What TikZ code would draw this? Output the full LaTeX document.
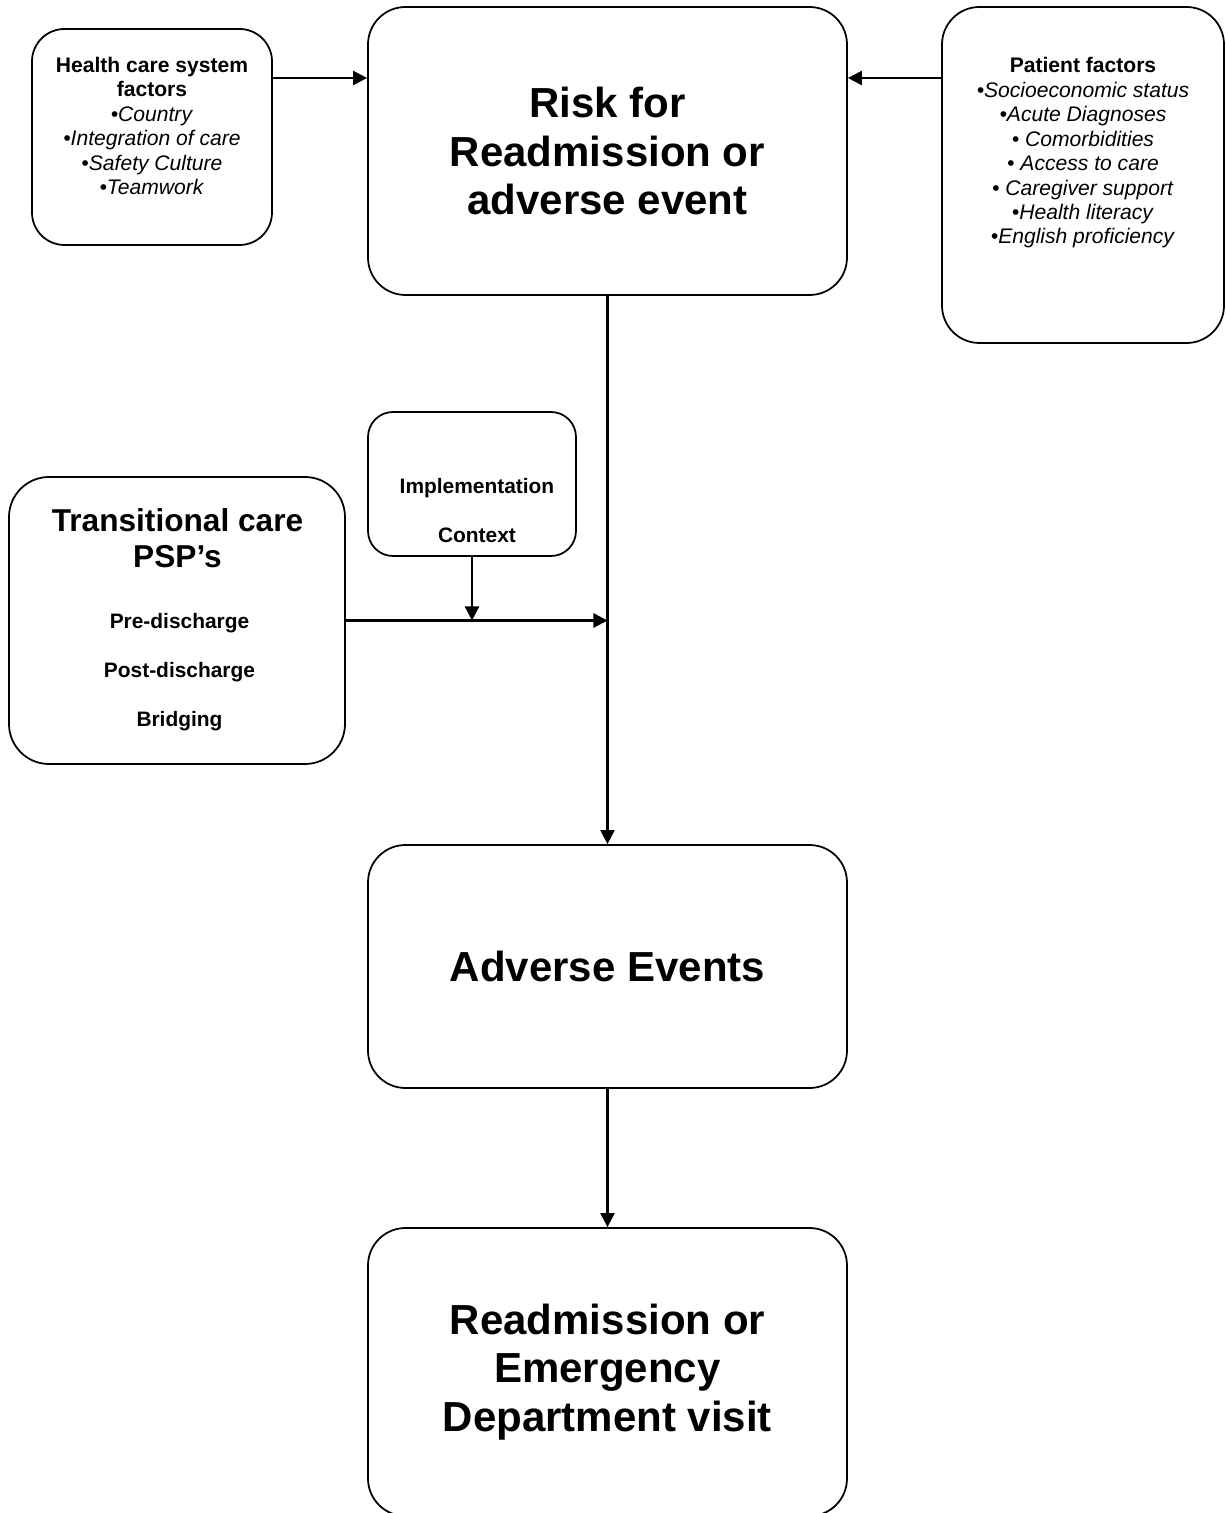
\documentclass[tikz,border=0pt]{standalone}
\usepackage{fontspec}
\setmainfont{Liberation Sans}
\usepackage{tikz}
\usetikzlibrary{positioning}
\usetikzlibrary{arrows.meta}
\tikzset{>=latex}
\tikzstyle{rbox}=[draw,line width=1pt,rounded corners=0.75cm,inner sep=0pt]
\tikzstyle{rbox big}=[rbox,minimum width=9.58cm]
\tikzstyle{title text}=[align=center,font=\bfseries\fontsize{23.9}{27.8}\selectfont]
\tikzstyle{mid text}=[align=center,font=\bfseries\fontsize{18}{20.4}\selectfont]
\tikzstyle{small text}=[align=center,font=\fontsize{12}{13.9}\selectfont]
\tikzstyle{spaced text}=[align=center,font=\bfseries\fontsize{11.9}{27.8}\selectfont]
\tikzstyle{connect arrow}=[-{Triangle[length=8pt,width=8pt]},line width=1.3pt]

\begin{document}
\begin{tikzpicture}[
    on grid,
    line width=1pt,]
\useasboundingbox (-12.15,3.02) rectangle (12.35,-27.24);

% Risk
\node [rbox big, minimum height=5.76cm, title text] (R)
{Risk for\\Readmission or\\adverse event};

% Factors
\node [rbox, minimum width=4.8cm, minimum height=4.32cm, rounded corners=0.65cm] (H)
  [above left=0.28cm and 9.11cm of R] {};
\node [small text] (Ht) [above=0.22cm of H]
{\textbf{Health care system}\\\textbf{factors}\\\textit{•Country}\\\textit{•Integration of care}\\\textit{•Safety Culture}\\\textit{•Teamwork}};

\node [rbox, minimum width=5.64cm, minimum height=6.72cm] (P)
  [below right=0.48cm and 9.51cm of R] {};
\node [small text] (Pt) [above=0.44cm of P]
{\textbf{Patient factors}\\\textit{•Socioeconomic status}\\\textit{•Acute Diagnoses}\\\textit{• Comorbidities}\\\textit{• Access to care}\\\textit{• Caregiver support}\\\textit{•Health literacy}\\\textit{•English proficiency}};

% Intervention
\node [rbox, minimum width=4.16cm, minimum height=2.88cm, rounded corners=0.5cm] (I)
  [below left=6.66cm and 2.71cm of R] {};
\node [spaced text] (It) [below right=0.53cm and 0.1cm of I] {Implementation\\Context};

\node [rbox, minimum width=6.72cm, minimum height=5.74cm, rounded corners=0.8cm] (T)
  [below left=9.39cm and 8.61cm of R] {};
\node [mid text] (Tt) [above right=1.65cm and 0.01cm of T] {Transitional care\\PSP’s};
\node [spaced text] (Ti) [below right=1.03cm and 0.05cm of T] {Pre-discharge\\Post-discharge\\Bridging};

% Outcomes
\node [rbox big, minimum height=4.86cm, title text] (A) [below=16.31cm of R] {Adverse Events};
\node [rbox big, minimum height=5.76cm, title text] (E) [below=8.11cm of A]
{Readmission or\\Emergency\\Department visit};

\begin{scope} [connect arrow]
    \draw ([yshift=1.18cm]H.east) -- ([yshift=1.18cm]H.east -| R.west);
    \draw ([yshift=1.94cm]P.west) -- ([yshift=1.94cm]P.west -| R.east);
    \draw (R.south) -- (A.north);
    \draw (T.east) -- (T.east -| R.south);
    \draw (I.south) -- (I.south |- T.east);
    \draw (A.south) -- (E.north);
\end{scope}

\end{tikzpicture}
\end{document}
